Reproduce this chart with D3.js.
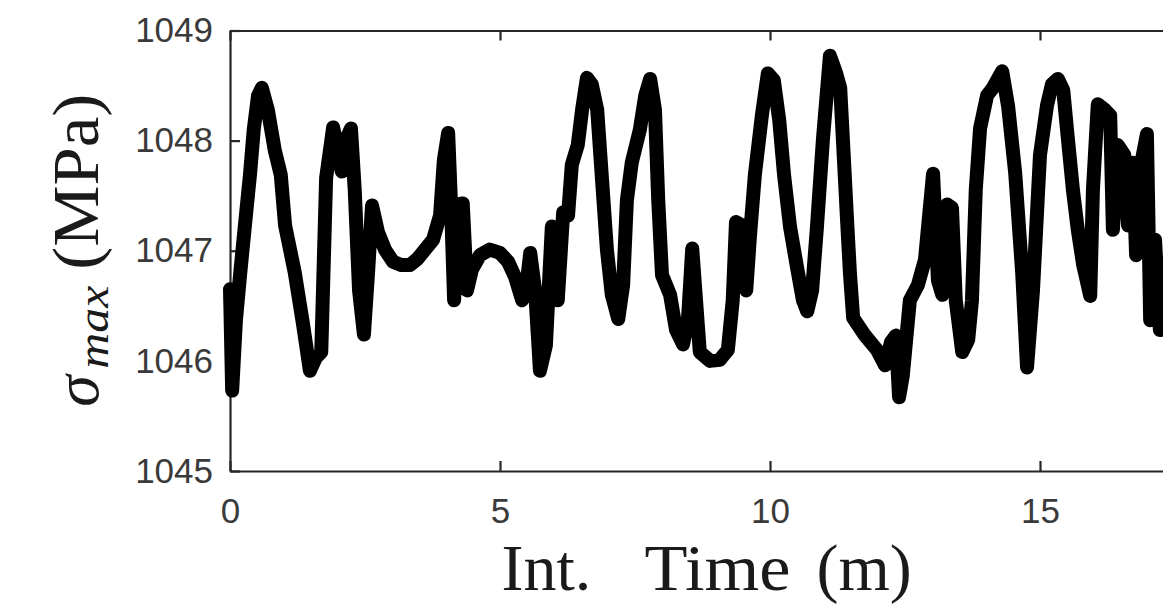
<!DOCTYPE html>
<html>
<head>
<meta charset="utf-8">
<script src="https://cdn.jsdelivr.net/npm/d3@7"></script>
<style>
  html, body { margin: 0; padding: 0; background: #fff; }
  svg { display: block; }
</style>
</head>
<body>
<svg id="chart" width="1163" height="609"></svg>
<script>
// Integration time (minutes) and maximum stress sigma_max (MPa)
const time = [
  0.00, 0.04, 0.11, 0.19, 0.28, 0.37, 0.44, 0.52, 0.59, 0.70,
  0.83, 0.94, 1.02, 1.20, 1.35, 1.48, 1.59, 1.69, 1.78, 1.91,
  2.00, 2.07, 2.15, 2.24, 2.31, 2.39, 2.48, 2.56, 2.63, 2.74,
  2.87, 3.02, 3.17, 3.33, 3.48, 3.61, 3.76, 3.89, 3.96, 4.04,
  4.09, 4.15, 4.22, 4.31, 4.39, 4.48, 4.63, 4.81, 5.00, 5.15,
  5.28, 5.41, 5.48, 5.56, 5.65, 5.74, 5.85, 5.96, 6.07, 6.17,
  6.26, 6.33, 6.44, 6.52, 6.61, 6.70, 6.80, 6.89, 6.98, 7.07,
  7.19, 7.28, 7.35, 7.44, 7.59, 7.69, 7.78, 7.87, 7.93, 8.00,
  8.15, 8.26, 8.39, 8.48, 8.56, 8.63, 8.70, 8.89, 9.07, 9.22,
  9.31, 9.37, 9.48, 9.56, 9.63, 9.72, 9.85, 9.96, 10.07, 10.17,
  10.26, 10.37, 10.50, 10.61, 10.69, 10.78, 10.87, 10.98, 11.11, 11.22,
  11.30, 11.35, 11.43, 11.48, 11.54, 11.76, 11.98, 12.13, 12.24, 12.33,
  12.39, 12.46, 12.59, 12.74, 12.87, 13.02, 13.11, 13.19, 13.28, 13.37,
  13.44, 13.56, 13.67, 13.74, 13.81, 13.89, 14.02, 14.13, 14.30, 14.41,
  14.54, 14.67, 14.76, 14.87, 15.00, 15.13, 15.22, 15.33, 15.43, 15.50,
  15.61, 15.70, 15.80, 15.93, 15.98, 16.07, 16.20, 16.30, 16.35, 16.44,
  16.56, 16.63, 16.72, 16.78, 16.85, 16.98, 17.04, 17.13, 17.22, 17.33,
  17.50
];
const sigmaMax = [
  1046.65, 1045.73, 1046.37, 1046.80, 1047.25, 1047.69, 1048.10, 1048.41, 1048.48, 1048.28,
  1047.91, 1047.69, 1047.23, 1046.80, 1046.34, 1045.91, 1046.03, 1046.08, 1047.66, 1048.12,
  1047.91, 1047.72, 1048.01, 1048.11, 1047.55, 1046.64, 1046.24, 1046.83, 1047.41, 1047.17,
  1047.01, 1046.90, 1046.87, 1046.87, 1046.93, 1047.01, 1047.10, 1047.32, 1047.82, 1048.07,
  1047.46, 1046.55, 1047.42, 1047.43, 1046.64, 1046.83, 1046.96, 1047.01, 1046.98, 1046.90,
  1046.76, 1046.55, 1046.64, 1046.98, 1046.64, 1045.91, 1046.14, 1047.22, 1046.55, 1047.35,
  1047.32, 1047.78, 1047.96, 1048.28, 1048.57, 1048.51, 1048.28, 1047.64, 1047.01, 1046.60,
  1046.38, 1046.69, 1047.46, 1047.80, 1048.10, 1048.41, 1048.56, 1048.28, 1047.46, 1046.78,
  1046.60, 1046.28, 1046.15, 1046.37, 1047.02, 1046.55, 1046.08, 1046.00, 1046.01, 1046.10,
  1046.55, 1047.26, 1047.23, 1046.64, 1047.14, 1047.69, 1048.23, 1048.61, 1048.55, 1048.19,
  1047.69, 1047.22, 1046.85, 1046.55, 1046.45, 1046.64, 1047.22, 1048.01, 1048.77, 1048.62,
  1048.48, 1048.01, 1047.25, 1046.80, 1046.39, 1046.23, 1046.10, 1045.96, 1046.17, 1046.23,
  1045.67, 1045.87, 1046.55, 1046.69, 1046.92, 1047.70, 1046.73, 1046.60, 1047.42, 1047.39,
  1046.55, 1046.08, 1046.19, 1046.55, 1047.55, 1048.11, 1048.41, 1048.48, 1048.63, 1048.31,
  1047.71, 1046.80, 1045.94, 1046.64, 1047.87, 1048.32, 1048.51, 1048.56, 1048.46, 1048.10,
  1047.55, 1047.19, 1046.87, 1046.59, 1047.55, 1048.33, 1048.28, 1048.23, 1047.19, 1047.96,
  1047.87, 1047.23, 1047.80, 1046.96, 1047.73, 1048.06, 1046.37, 1047.10, 1046.28, 1046.55,
  1046.90
];
const xTicks = [0, 5, 10, 15];
const yTicks = [1045, 1046, 1047, 1048, 1049];
const xDomain = [0, 17.65];
const yDomain = [1045, 1049];

const svg = d3.select("#chart");
const plotLeft = 230, plotTop = 30.5, plotBottom = 471;

const x = d3.scaleLinear().domain(xDomain).range([plotLeft, plotLeft + 54 * xDomain[1]]);
const y = d3.scaleLinear().domain(yDomain).range([plotBottom, plotTop]);

const axisColor = "#262626";
const labelColor = "#3a3a3a";
const tickFont = "'Liberation Sans', Arial, Helvetica, sans-serif";
const serif = "'Liberation Serif', 'Times New Roman', serif";

// axes box with inward ticks
const gBottom = svg.append("g").attr("transform", `translate(0,${plotBottom})`)
  .call(d3.axisBottom(x).tickValues(xTicks).tickSizeInner(-10).tickSizeOuter(0).tickPadding(27).tickFormat(d3.format("d")));
const gTop = svg.append("g").attr("transform", `translate(0,${plotTop})`)
  .call(d3.axisTop(x).tickValues(xTicks).tickSizeInner(-10).tickSizeOuter(0).tickFormat(""));
const gLeft = svg.append("g").attr("transform", `translate(${plotLeft},0)`)
  .call(d3.axisLeft(y).tickValues(yTicks).tickSizeInner(-10).tickSizeOuter(0).tickPadding(17).tickFormat(d3.format("d")));
const gRight = svg.append("g").attr("transform", `translate(${x(xDomain[1])},0)`)
  .call(d3.axisRight(y).tickValues(yTicks).tickSizeInner(-10).tickSizeOuter(0).tickFormat(""));

[gBottom, gTop, gLeft, gRight].forEach(g => {
  g.select(".domain").attr("stroke", axisColor).attr("stroke-width", 2.2);
  g.selectAll(".tick line").attr("stroke", axisColor).attr("stroke-width", 2.2);
  g.selectAll(".tick text").attr("fill", labelColor)
    .style("font-family", tickFont).style("font-size", "35px");
});

// sigma_max trace
const line = d3.line().x((d, i) => x(time[i])).y(d => y(d)).curve(d3.curveLinear);
svg.append("path")
  .datum(sigmaMax)
  .attr("d", line)
  .attr("fill", "none")
  .attr("stroke", "#000")
  .attr("stroke-width", 14)
  .attr("stroke-linejoin", "round")
  .attr("stroke-linecap", "round");

// x-axis label
const xMid = (x.range()[0] + x.range()[1]) / 2;
const xl = svg.append("text")
  .attr("y", 590)
  .attr("fill", "#1a1a1a")
  .style("font-family", serif)
  .style("font-size", "66px");
xl.append("tspan").attr("x", xMid - 205).text("Int.");
xl.append("tspan").attr("x", xMid - 62).attr("textLength", 146).attr("lengthAdjust", "spacingAndGlyphs").text("Time");
xl.append("tspan").attr("x", xMid + 110).text("(m)");

// y-axis label: sigma_max (MPa)
const yMid = (plotTop + plotBottom) / 2;
const yl = svg.append("g").attr("transform", "rotate(-90)");
yl.append("text")
  .attr("x", -(yMid + 156)).attr("y", 98)
  .attr("fill", "#1a1a1a")
  .style("font-family", serif).style("font-style", "italic").style("font-size", "64px")
  .text("σ");
yl.append("text")
  .attr("x", -(yMid + 118)).attr("y", 108)
  .attr("textLength", 83).attr("lengthAdjust", "spacingAndGlyphs")
  .attr("fill", "#1a1a1a")
  .style("font-family", serif).style("font-style", "italic").style("font-size", "44px")
  .text("max");
yl.append("text")
  .attr("x", -(yMid + 19)).attr("y", 98)
  .attr("textLength", 176).attr("lengthAdjust", "spacingAndGlyphs")
  .attr("fill", "#1a1a1a")
  .style("font-family", serif).style("font-size", "66px")
  .text("(MPa)");
</script>
</body>
</html>
